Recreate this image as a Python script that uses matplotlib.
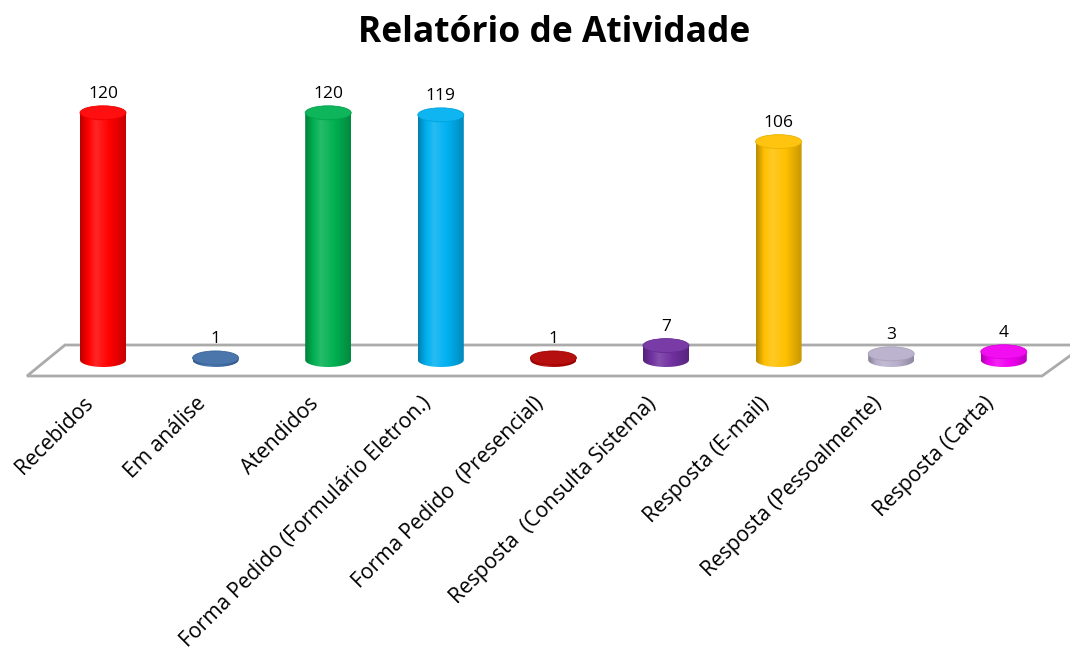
import numpy as np
import matplotlib
matplotlib.use("Agg")
import matplotlib.pyplot as plt
from matplotlib.patches import Ellipse, Polygon
from matplotlib.colors import LinearSegmentedColormap, to_rgb

categories = ["Recebidos", "Em análise", "Atendidos", "Forma Pedido (Formulário Eletron.)",
              "Forma Pedido  (Presencial)", "Resposta  (Consulta Sistema)", "Resposta (E-mail)",
              "Resposta (Pessoalmente)", "Resposta (Carta)"]
values = [120, 1, 120, 119, 1, 7, 106, 3, 4]
colors = ["#FF0000", "#3E6DA6", "#00B050", "#00B0F0", "#B00000", "#7030A0", "#FFC000", "#B8AECB", "#F000F0"]
title = "Relatório de Atividade"

plt.rcParams['font.family'] = ['Open Sans', 'DejaVu Sans']

W, H = 1070, 648
fig = plt.figure(figsize=(W / 100, H / 100), dpi=100)
ax = fig.add_axes([0, 0, 1, 1])
ax.set_axis_off()

# pixel -> data mapping
X0, DX = 103.0, 112.6
Y0, DY = 360.0, 2.06
def px2d(px, py):
    return ((px - X0) / DX, (Y0 - py) / DY)

xl0, _ = px2d(0, 0)
xl1, _ = px2d(W, 0)
_, yb = px2d(0, H)
_, yt = px2d(0, 0)
ax.set_xlim(xl0, xl1)
ax.set_ylim(yb, yt)

# floor
floor_px = [(27, 376), (65, 345), (1085, 345), (1042, 376)]
floor = Polygon([px2d(*p) for p in floor_px], closed=True, facecolor="white",
                edgecolor="#ABABAB", linewidth=2.0, zorder=1)
ax.add_patch(floor)

bw = 46 / DX
eh = 14 / DY

def shade(c, f):
    r, g, b = to_rgb(c)
    if f < 1:
        return (r * f, g * f, b * f)
    f = f - 1
    return (r + (1 - r) * f, g + (1 - g) * f, b + (1 - b) * f)

for i, (v, c) in enumerate(zip(values, colors)):
    xc = i
    x0, x1 = xc - bw / 2, xc + bw / 2
    cmap = LinearSegmentedColormap.from_list(
        f"c{i}", [(0, shade(c, 0.72)), (0.18, c), (0.35, shade(c, 1.15)),
                  (0.65, c), (1, shade(c, 0.78))])
    t = np.linspace(np.pi, 2 * np.pi, 40)
    bx = xc + bw / 2 * np.cos(t)
    by = 0 + eh / 2 * np.sin(t)
    pts = list(zip(bx, by)) + [(x1, v), (x0, v)]
    clip = Polygon(pts, closed=True, facecolor="none", edgecolor="none")
    ax.add_patch(clip)
    grad = np.linspace(0, 1, 256).reshape(1, -1)
    im = ax.imshow(grad, extent=[x0, x1, -eh, v], aspect="auto", cmap=cmap,
                   origin="lower", zorder=2, interpolation="bilinear")
    im.set_clip_path(clip)
    top = Ellipse((xc, v), bw, eh, facecolor=shade(c, 1.06), edgecolor=shade(c, 0.92),
                  linewidth=0.6, zorder=3)
    ax.add_patch(top)
    ax.text(xc, v + eh / 2 + 4 / DY, str(v), ha="center", va="bottom",
            fontsize=12.5, color="black", zorder=4)

# category labels
for i, lab in enumerate(categories):
    lx, ly = i - 20 / DX, (Y0 - 393) / DY
    ax.text(lx, ly, lab, rotation=45, ha="right", va="top", rotation_mode="anchor",
            fontsize=15.2, color="black")

# title
tx, ty = px2d(554, 33)
ax.text(tx, ty, title, ha="center", va="center", fontsize=25.5, fontweight="bold", color="black")

fig.savefig("out.png", dpi=100)
